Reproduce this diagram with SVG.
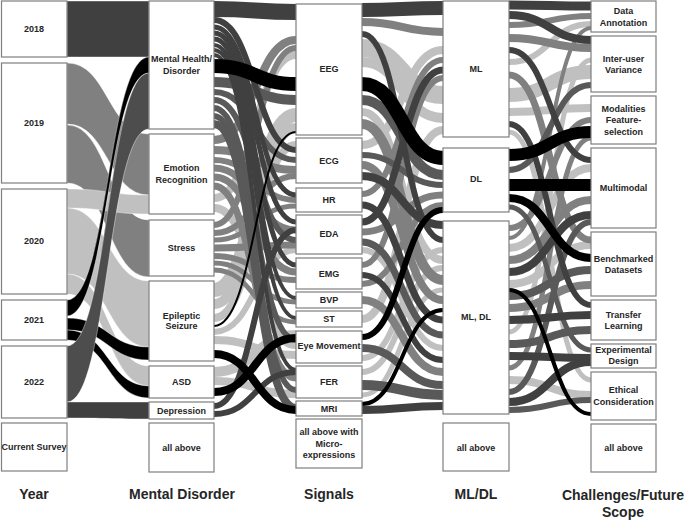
<svg xmlns="http://www.w3.org/2000/svg" width="685" height="520" viewBox="0 0 685 520">
<style>
.n rect{fill:#fff;stroke:#7f7f7f;stroke-width:1.2}
.n text,.t{font-family:"Liberation Sans",Arial,sans-serif;font-weight:bold;fill:#262626;text-anchor:middle}
.n text{font-size:9px}
.t{font-size:14px}
.lk path{fill:none}
.a{stroke:#c0c0c0}.b{stroke:#808080}.c{stroke:#595959}.d{stroke:#404040}.e{stroke:#000}
.r path{stroke:#fff;stroke-width:0.4}
</style>
<rect width="685" height="520" fill="#fff"/>
<g id="connectors">
<g class="r">
<path fill="#808080" d="M67,63 C108,63 108,134 149,134 L149,195 C108,195 108,124 67,124 Z"/>
<path fill="#808080" d="M67,125 C108,125 108,220 149,220 L149,277 C108,277 108,183 67,183 Z"/>
<path fill="#c0c0c0" d="M67,189 C108,189 108,195 149,195 L149,214 C108,214 108,208 67,208 Z"/>
<path fill="#c0c0c0" d="M67,208 C108,208 108,281 149,281 L149,347 C108,347 108,274 67,274 Z"/>
<path fill="#c0c0c0" d="M67,274 C108,274 108,366 149,366 L149,386 C108,386 108,294 67,294 Z"/>
<path fill="#404040" d="M67,1 L149,1 L149,57 L67,57 Z"/>
<path fill="#000" d="M67,300 C108,300 108,57 149,57 L149,73 C108,73 108,316 67,316 Z"/>
<path fill="#000" d="M67,318 C108,318 108,347 149,347 L149,360 C108,360 108,330 67,330 Z"/>
<path fill="#000" d="M67,330 C108,330 108,386 149,386 L149,398 C108,398 108,340 67,340 Z"/>
<path fill="#4d4d4d" d="M67,346 C108,346 108,73 149,73 L149,129 C108,129 108,402 67,402 Z"/>
<path fill="#404040" d="M67,402 C108,402 108,402 149,402 L149,419 C108,419 108,418 67,418 Z"/>
</g>
<g class="lk">
<path class="a" stroke-width="8" d="M214,198 C255,198 255,55 296,55"/>
<path class="a" stroke-width="8" d="M214,208 C255,208 255,345 296,345"/>
<path class="a" stroke-width="14" d="M214,290 C255,290 255,115 296,115"/>
<path class="a" stroke-width="10" d="M214,304 C255,304 255,128 296,128"/>
<path class="a" stroke-width="8" d="M214,318 C255,318 255,145 296,145"/>
<path class="a" stroke-width="6" d="M214,332 C255,332 255,250 296,250"/>
<path class="a" stroke-width="8" d="M214,340 C255,340 255,355 296,355"/>
<path class="a" stroke-width="10" d="M214,372 C255,372 255,335 296,335"/>
<path class="a" stroke-width="8" d="M214,381 C255,381 255,394 296,394"/>
<path class="b" stroke-width="8" d="M214,140 C255,140 255,40 296,40"/>
<path class="b" stroke-width="8" d="M214,150 C255,150 255,170 296,170"/>
<path class="b" stroke-width="6" d="M214,160 C255,160 255,200 296,200"/>
<path class="b" stroke-width="7" d="M214,168 C255,168 255,230 296,230"/>
<path class="b" stroke-width="7" d="M214,177 C255,177 255,272 296,272"/>
<path class="b" stroke-width="7" d="M214,186 C255,186 255,378 296,378"/>
<path class="b" stroke-width="6" d="M214,225 C255,225 255,48 296,48"/>
<path class="b" stroke-width="6" d="M214,233 C255,233 255,176 296,176"/>
<path class="b" stroke-width="5" d="M214,240 C255,240 255,206 296,206"/>
<path class="b" stroke-width="7" d="M214,248 C255,248 255,245 296,245"/>
<path class="b" stroke-width="6" d="M214,256 C255,256 255,280 296,280"/>
<path class="b" stroke-width="5" d="M214,263 C255,263 255,302 296,302"/>
<path class="b" stroke-width="5" d="M214,270 C255,270 255,322 296,322"/>
<path class="c" stroke-width="10" d="M214,82 C255,82 255,100 296,100"/>
<path class="c" stroke-width="6" d="M214,92 C255,92 255,160 296,160"/>
<path class="c" stroke-width="6" d="M214,100 C255,100 255,240 296,240"/>
<path class="c" stroke-width="6" d="M214,108 C255,108 255,340 296,340"/>
<path class="c" stroke-width="6" d="M214,116 C255,116 255,390 296,390"/>
<path class="c" stroke-width="8" d="M214,124 C255,124 255,408 296,408"/>
<path class="d" stroke-width="16" d="M214,9 C255,9 255,12 296,12"/>
<path class="d" stroke-width="6" d="M214,20 C255,20 255,150 296,150"/>
<path class="d" stroke-width="5" d="M214,27 C255,27 255,195 296,195"/>
<path class="d" stroke-width="5" d="M214,33 C255,33 255,222 296,222"/>
<path class="d" stroke-width="5" d="M214,39 C255,39 255,265 296,265"/>
<path class="d" stroke-width="4" d="M214,45 C255,45 255,298 296,298"/>
<path class="d" stroke-width="4" d="M214,50 C255,50 255,318 296,318"/>
<path class="d" stroke-width="4" d="M214,55 C255,55 255,370 296,370"/>
<path class="d" stroke-width="6" d="M214,406 C255,406 255,230 296,230"/>
<path class="d" stroke-width="6" d="M214,414 C255,414 255,372 296,372"/>
<path class="e" stroke-width="14" d="M214,66 C255,66 255,84 296,84"/>
<path class="e" stroke-width="8" d="M214,354 C255,354 255,410 296,410"/>
<path class="e" stroke-width="8" d="M214,392 C255,392 255,338 296,338"/>
<path class="e" stroke-width="2" d="M214,326 C255,326 255,132 296,132"/>

<path class="a" stroke-width="18" d="M362,48 C402,48 402,95 443,95"/>
<path class="a" stroke-width="10" d="M362,62 C402,62 402,118 443,118"/>
<path class="a" stroke-width="8" d="M362,112 C402,112 402,260 443,260"/>
<path class="a" stroke-width="8" d="M362,145 C402,145 402,50 443,50"/>
<path class="a" stroke-width="6" d="M362,250 C402,250 402,348 443,348"/>
<path class="a" stroke-width="8" d="M362,319 C402,319 402,130 443,130"/>
<path class="a" stroke-width="6" d="M362,358 C402,358 402,250 443,250"/>
<path class="a" stroke-width="6" d="M362,372 C402,372 402,268 443,268"/>
<path class="a" stroke-width="5" d="M362,395 C402,395 402,290 443,290"/>
<path class="b" stroke-width="8" d="M362,22 C402,22 402,32 443,32"/>
<path class="b" stroke-width="10" d="M362,124 C402,124 402,280 443,280"/>
<path class="b" stroke-width="8" d="M362,165 C402,165 402,300 443,300"/>
<path class="b" stroke-width="6" d="M362,194 C402,194 402,60 443,60"/>
<path class="b" stroke-width="7" d="M362,232 C402,232 402,195 443,195"/>
<path class="b" stroke-width="6" d="M362,265 C402,265 402,78 443,78"/>
<path class="b" stroke-width="6" d="M362,284 C402,284 402,205 443,205"/>
<path class="b" stroke-width="8" d="M362,300 C402,300 402,372 443,372"/>
<path class="c" stroke-width="10" d="M362,100 C402,100 402,175 443,175"/>
<path class="c" stroke-width="6" d="M362,155 C402,155 402,185 443,185"/>
<path class="c" stroke-width="7" d="M362,242 C402,242 402,335 443,335"/>
<path class="c" stroke-width="8" d="M362,348 C402,348 402,385 443,385"/>
<path class="c" stroke-width="10" d="M362,385 C402,385 402,395 443,395"/>
<path class="d" stroke-width="14" d="M362,10 C402,10 402,8 443,8"/>
<path class="d" stroke-width="6" d="M362,34 C402,34 402,240 443,240"/>
<path class="d" stroke-width="8" d="M362,176 C402,176 402,225 443,225"/>
<path class="d" stroke-width="7" d="M362,205 C402,205 402,320 443,320"/>
<path class="d" stroke-width="7" d="M362,222 C402,222 402,70 443,70"/>
<path class="d" stroke-width="6" d="M362,275 C402,275 402,360 443,360"/>
<path class="d" stroke-width="8" d="M362,410 C402,410 402,406 443,406"/>
<path class="e" stroke-width="14" d="M362,84 C402,84 402,158 443,158"/>
<path class="e" stroke-width="6" d="M362,337 C402,337 402,210 443,210"/>
<path class="e" stroke-width="4" d="M362,404 C402,404 402,310 443,310"/>

<path class="a" stroke-width="6" d="M509,62 C550,62 550,24 591,24"/>
<path class="a" stroke-width="14" d="M509,95 C550,95 550,72 591,72"/>
<path class="a" stroke-width="8" d="M509,112 C550,112 550,108 591,108"/>
<path class="a" stroke-width="5" d="M509,132 C550,132 550,380 591,380"/>
<path class="a" stroke-width="8" d="M509,248 C550,248 550,168 591,168"/>
<path class="a" stroke-width="8" d="M509,284 C550,284 550,245 591,245"/>
<path class="a" stroke-width="5" d="M509,332 C550,332 550,60 591,60"/>
<path class="a" stroke-width="8" d="M509,380 C550,380 550,395 591,395"/>
<path class="b" stroke-width="6" d="M509,25 C550,25 550,16 591,16"/>
<path class="b" stroke-width="8" d="M509,38 C550,38 550,48 591,48"/>
<path class="b" stroke-width="7" d="M509,75 C550,75 550,240 591,240"/>
<path class="b" stroke-width="6" d="M509,228 C550,228 550,120 591,120"/>
<path class="b" stroke-width="4" d="M509,238 C550,238 550,28 591,28"/>
<path class="b" stroke-width="8" d="M509,260 C550,260 550,200 591,200"/>
<path class="b" stroke-width="8" d="M509,308 C550,308 550,285 591,285"/>
<path class="b" stroke-width="5" d="M509,368 C550,368 550,138 591,138"/>
<path class="c" stroke-width="6" d="M509,170 C550,170 550,85 591,85"/>
<path class="c" stroke-width="5" d="M509,207 C550,207 550,350 591,350"/>
<path class="c" stroke-width="8" d="M509,296 C550,296 550,270 591,270"/>
<path class="c" stroke-width="8" d="M509,344 C550,344 550,330 591,330"/>
<path class="c" stroke-width="6" d="M509,392 C550,392 550,222 591,222"/>
<path class="c" stroke-width="6" d="M509,410 C550,410 550,400 591,400"/>
<path class="d" stroke-width="9" d="M509,5 C550,5 550,6 591,6"/>
<path class="d" stroke-width="8" d="M509,15 C550,15 550,40 591,40"/>
<path class="d" stroke-width="6" d="M509,50 C550,50 550,160 591,160"/>
<path class="d" stroke-width="6" d="M509,124 C550,124 550,305 591,305"/>
<path class="d" stroke-width="8" d="M509,272 C550,272 550,215 591,215"/>
<path class="d" stroke-width="8" d="M509,320 C550,320 550,315 591,315"/>
<path class="d" stroke-width="8" d="M509,356 C550,356 550,358 591,358"/>
<path class="d" stroke-width="8" d="M509,402 C550,402 550,362 591,362"/>
<path class="e" stroke-width="12" d="M509,155 C550,155 550,132 591,132"/>
<path class="e" stroke-width="12" d="M509,185 C550,185 550,185 591,185"/>
<path class="e" stroke-width="8" d="M509,198 C550,198 550,258 591,258"/>
<path class="e" stroke-width="4" d="M509,290 C550,290 550,414 591,414"/>
</g>
</g>

<g class="n" id="n-2018"><rect x="1.5" y="1" width="65.5" height="56"/><text x="34" y="32">2018</text></g>
<g class="n" id="n-2019"><rect x="1.5" y="63" width="65.5" height="120"/><text x="34" y="126">2019</text></g>
<g class="n" id="n-2020"><rect x="1.5" y="189" width="65.5" height="105"/><text x="34" y="244">2020</text></g>
<g class="n" id="n-2021"><rect x="1.5" y="300" width="65.5" height="40"/><text x="34" y="323">2021</text></g>
<g class="n" id="n-2022"><rect x="1.5" y="346" width="65.5" height="72"/><text x="34" y="385">2022</text></g>
<g class="n" id="n-current"><rect x="1.5" y="423" width="65.5" height="48"/><text x="34" y="450">Current Survey</text></g>

<g class="n" id="n-mh"><rect x="149" y="1" width="65" height="128"/><text x="181.5" y="61.5">Mental Health/</text><text x="181.5" y="74">Disorder</text></g>
<g class="n" id="n-er"><rect x="149" y="134" width="65" height="80"/><text x="181.5" y="171">Emotion</text><text x="181.5" y="182.5">Recognition</text></g>
<g class="n" id="n-stress"><rect x="149" y="220" width="65" height="56"/><text x="181.5" y="250.5">Stress</text></g>
<g class="n" id="n-epi"><rect x="149" y="281" width="65" height="80"/><text x="181.5" y="318.5">Epileptic</text><text x="181.5" y="329">Seizure</text></g>
<g class="n" id="n-asd"><rect x="149" y="366" width="65" height="32"/><text x="181.5" y="385">ASD</text></g>
<g class="n" id="n-dep"><rect x="149" y="402" width="65" height="17"/><text x="181.5" y="414">Depression</text></g>
<g class="n" id="n-md-all"><rect x="149" y="423" width="65" height="49"/><text x="181.5" y="451">all above</text></g>

<g class="n" id="n-eeg"><rect x="296" y="4" width="66" height="131"/><text x="329" y="71.5">EEG</text></g>
<g class="n" id="n-ecg"><rect x="296" y="138" width="66" height="45"/><text x="329" y="163.5">ECG</text></g>
<g class="n" id="n-hr"><rect x="296" y="188" width="66" height="24"/><text x="329" y="202.5">HR</text></g>
<g class="n" id="n-eda"><rect x="296" y="215" width="66" height="39"/><text x="329" y="237">EDA</text></g>
<g class="n" id="n-emg"><rect x="296" y="258" width="66" height="31"/><text x="329" y="276.5">EMG</text></g>
<g class="n" id="n-bvp"><rect x="296" y="292" width="66" height="16"/><text x="329" y="303">BVP</text></g>
<g class="n" id="n-st"><rect x="296" y="311" width="66" height="16"/><text x="329" y="322">ST</text></g>
<g class="n" id="n-eye"><rect x="296" y="331" width="66" height="32"/><text x="329" y="349">Eye Movement</text></g>
<g class="n" id="n-fer"><rect x="296" y="366" width="66" height="32"/><text x="329" y="385">FER</text></g>
<g class="n" id="n-mri"><rect x="296" y="401" width="66" height="15"/><text x="329" y="411.5">MRI</text></g>
<g class="n" id="n-sig-all"><rect x="296" y="419" width="66" height="49"/><text x="329" y="435">all above with</text><text x="329" y="446.5">Micro-</text><text x="329" y="458">expressions</text></g>

<g class="n" id="n-ml"><rect x="443" y="1" width="66" height="136"/><text x="476" y="72">ML</text></g>
<g class="n" id="n-dl"><rect x="443" y="148" width="66" height="64"/><text x="476" y="181.5">DL</text></g>
<g class="n" id="n-mldl"><rect x="443" y="221" width="66" height="193"/><text x="476" y="320">ML, DL</text></g>
<g class="n" id="n-ml-all"><rect x="443" y="423" width="66" height="48"/><text x="476" y="451">all above</text></g>

<g class="n" id="n-da"><rect x="591" y="1" width="65" height="31"/><text x="623.5" y="14">Data</text><text x="623.5" y="25.5">Annotation</text></g>
<g class="n" id="n-iuv"><rect x="591" y="36" width="65" height="56"/><text x="623.5" y="62">Inter-user</text><text x="623.5" y="73">Variance</text></g>
<g class="n" id="n-mfs"><rect x="591" y="96" width="65" height="48"/><text x="623.5" y="111.5">Modalities</text><text x="623.5" y="123">Feature-</text><text x="623.5" y="135">selection</text></g>
<g class="n" id="n-mm"><rect x="591" y="148" width="65" height="80"/><text x="623.5" y="190.5">Multimodal</text></g>
<g class="n" id="n-bd"><rect x="591" y="232" width="65" height="64"/><text x="623.5" y="262">Benchmarked</text><text x="623.5" y="272.5">Datasets</text></g>
<g class="n" id="n-tl"><rect x="591" y="300" width="65" height="40"/><text x="623.5" y="317.5">Transfer</text><text x="623.5" y="329">Learning</text></g>
<g class="n" id="n-ed"><rect x="591" y="344" width="65" height="24"/><text x="623.5" y="353">Experimental</text><text x="623.5" y="364">Design</text></g>
<g class="n" id="n-ec"><rect x="591" y="372" width="65" height="48"/><text x="623.5" y="393">Ethical</text><text x="623.5" y="405">Consideration</text></g>
<g class="n" id="n-ch-all"><rect x="591" y="424" width="65" height="48"/><text x="623.5" y="451">all above</text></g>

<g id="axis-labels">
<text class="t" x="34" y="499">Year</text>
<text class="t" x="182" y="499">Mental Disorder</text>
<text class="t" x="329" y="499">Signals</text>
<text class="t" x="476" y="499">ML/DL</text>
<text class="t" x="623" y="500">Challenges/Future</text>
<text class="t" x="623" y="517">Scope</text>
</g>
</svg>
